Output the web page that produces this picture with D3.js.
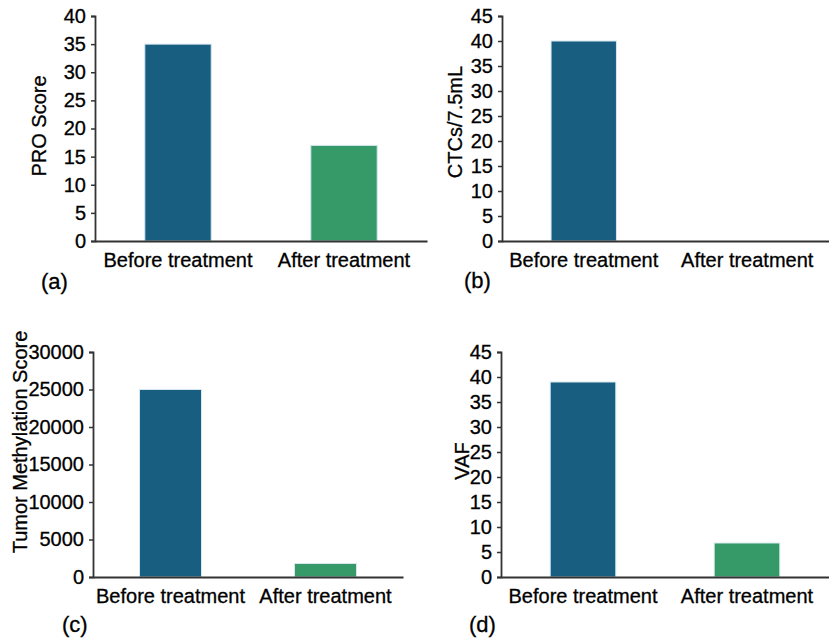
<!DOCTYPE html>
<meta charset="utf-8">
<script src="https://d3js.org/d3.v7.min.js"></script>
<style>
  body { margin: 0; background: #fff; }
  text { font-family: "Liberation Sans", Arial, sans-serif; fill: #000; stroke: #000; stroke-width: 0.3px; }
</style>
<div id="my_dataviz"></div>
<script>

// data
var categories = ["Before treatment", "After treatment"];
var proScore = [35, 17];
var ctcCount = [40, 0];
var methylScore = [25000, 1800];
var vafValues = [39, 6.8];
var yMaxes = [40, 45, 30000, 45];
var yStep = [5, 5, 5000, 5];
var yTitles = ["PRO Score", "CTCs/7.5mL", "Tumor Methylation Score", "VAF"];
var panelTags = ["(a)", "(b)", "(c)", "(d)"];

var colors = ["#185e80", "#359a68"];

var svg = d3.select("#my_dataviz")
  .append("svg")
    .attr("width", 829)
    .attr("height", 639);

// layout of each panel: axis x, right end, top y, zero y, title pos, tag pos
var panels = [
  {vals: proScore,    x0: 95,  x1: 427, top: 16,  bottom: 241, tx: 39,  ty: 126, gx: 41,  gy: 289},
  {vals: ctcCount,    x0: 502, x1: 829, top: 16,  bottom: 241, tx: 455, ty: 122, gx: 464, gy: 288},
  {vals: methylScore, x0: 93,  x1: 403, top: 352, bottom: 577, tx: 20,  ty: 442, gx: 62,  gy: 632},
  {vals: vafValues,   x0: 501, x1: 829, top: 352, bottom: 577, tx: 462, ty: 461, gx: 469, gy: 632}
];

panels.forEach(function(p, i) {
  var g = svg.append("g");

  var x = d3.scaleBand()
    .domain(categories)
    .range([p.x0, p.x1]);

  var y = d3.scaleLinear()
    .domain([0, yMaxes[i]])
    .range([p.bottom, p.top]);

  // bars
  var bw = x.bandwidth() * 0.4;
  g.selectAll("rect")
    .data(p.vals)
    .enter()
    .append("rect")
      .attr("x", function(d, j) { return x(categories[j]) + x.bandwidth() / 2 - bw / 2; })
      .attr("y", function(d) { return y(d); })
      .attr("width", bw)
      .attr("height", function(d) { return p.bottom - y(d); })
      .style("fill", function(d, j) { return colors[j]; })
      .style("stroke", "#d6e8ee")
      .style("stroke-width", 1)
      .style("display", function(d) { return d > 0 ? null : "none"; });

  // Y axis
  var yAxis = g.append("g")
    .attr("transform", "translate(" + p.x0 + ",0)")
    .call(d3.axisLeft(y)
      .tickValues(d3.range(0, yMaxes[i] + 1, yStep[i]))
      .tickFormat(d3.format("d"))
      .tickSize(4)
      .tickPadding(5)
      .tickSizeOuter(4));
  yAxis.select(".domain").attr("stroke", "#333").attr("stroke-width", 1.8);
  yAxis.selectAll(".tick line").attr("stroke", "#333").attr("stroke-width", 1.5);
  yAxis.selectAll(".tick text").style("font-size", "20px");

  // X axis
  var xAxis = g.append("g")
    .attr("transform", "translate(0," + p.bottom + ")")
    .call(d3.axisBottom(x).tickSize(0).tickPadding(12).tickSizeOuter(0));
  xAxis.select(".domain").attr("stroke", "#333").attr("stroke-width", 2);
  xAxis.selectAll(".tick text").style("font-size", "20px");

  // Y title
  g.append("text")
    .attr("transform", "translate(" + p.tx + "," + p.ty + ") rotate(-90)")
    .attr("text-anchor", "middle")
    .attr("dominant-baseline", "central")
    .style("font-size", "20px")
    .text(yTitles[i]);

  // panel tag
  g.append("text")
    .attr("x", p.gx)
    .attr("y", p.gy)
    .style("font-size", "22px")
    .text(panelTags[i]);
});

</script>
